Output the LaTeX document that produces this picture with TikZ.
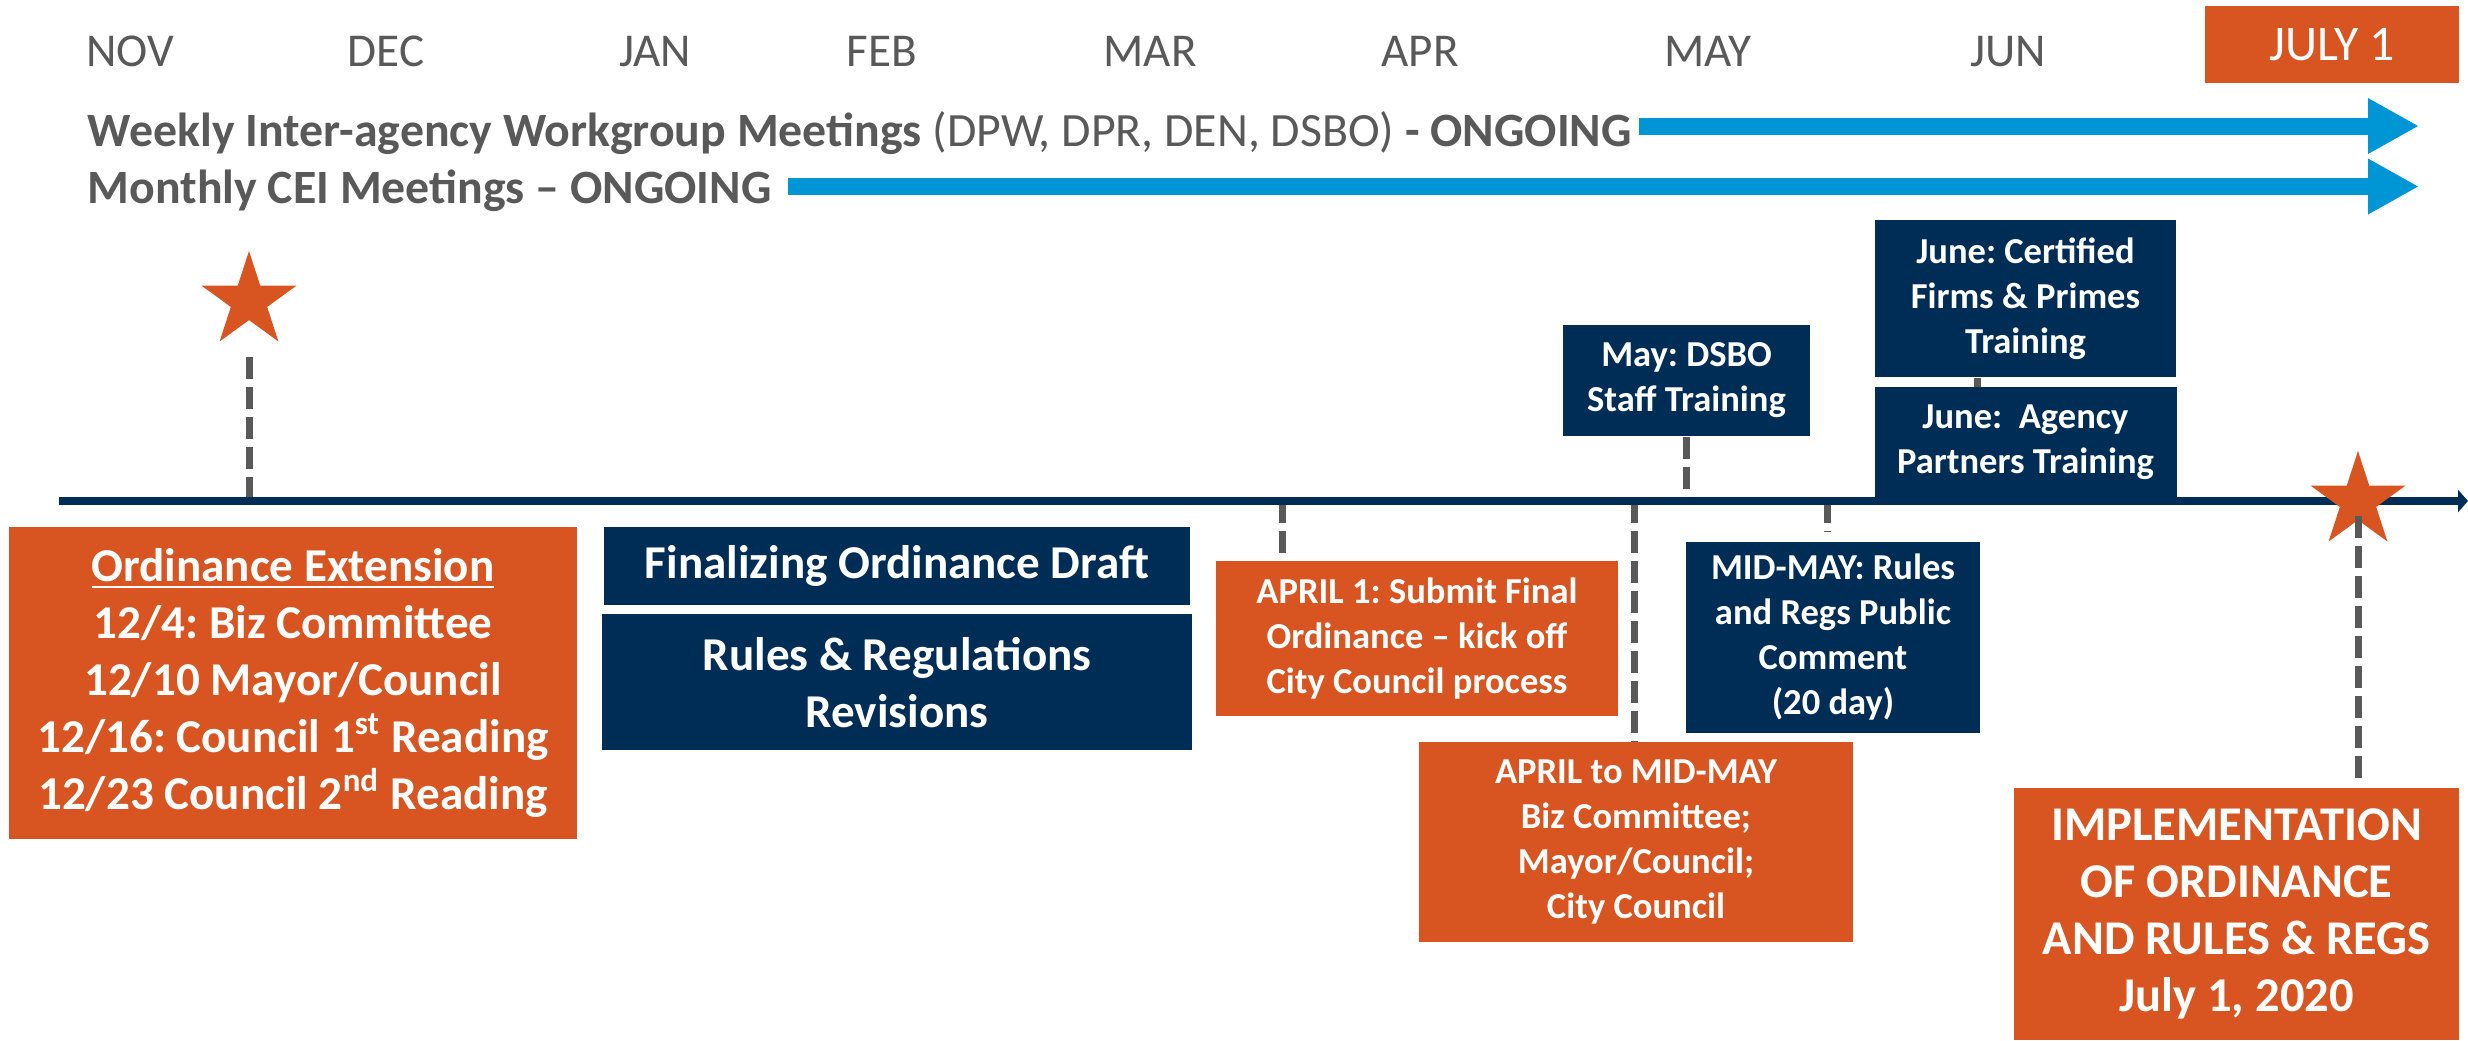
\documentclass[tikz,border=0pt]{standalone}
\usepackage{fontspec}
\setmainfont{Carlito}
\usepackage{xcolor}
\usepackage{tikz}
\usetikzlibrary{arrows.meta, positioning, shapes.geometric}

\definecolor{ordorange}{RGB}{216,84,32}
\definecolor{navy}{RGB}{0,45,86}
\definecolor{meetblue}{RGB}{0,150,214}
\definecolor{textgrey}{RGB}{89,89,89}

\frenchspacing
\begin{document}
\begin{tikzpicture}[x=0.1mm, y=-0.1mm]
            % Block styles
            \tikzstyle{orangebox} = [rectangle, fill=ordorange, text=white, align=center, inner sep=0pt]
            \tikzstyle{navybox} = [rectangle, fill=navy, text=white, align=center, inner sep=0pt]
            \tikzstyle{smalltext} = [font=\bfseries\fontsize{10.4}{12.8}\selectfont]
            \tikzstyle{bigtext} = [font=\bfseries\fontsize{13.4}{16.2}\selectfont]
            \tikzstyle{month} = [anchor=base, text=textgrey, font=\fontsize{13.4}{16}\selectfont]
            \tikzstyle{meeting} = [anchor=base west, text=textgrey, inner sep=0.6mm, font=\fontsize{13.6}{16}\selectfont]
            \tikzstyle{ongoing} = [draw=meetblue, line width=1.7mm, -{Triangle[length=5.1mm, width=5.2mm]}]
            \tikzstyle{timeline} = [draw=navy, line width=0.8mm, -{Triangle[length=1mm, width=2.2mm]}]
            \tikzstyle{link} = [draw=textgrey, line width=0.7mm, dash pattern=on 2.2mm off 0.8mm]
            \tikzstyle{starmark} = [star, star points=5, star point ratio=2.618, minimum size=10mm, inner sep=0pt, fill=ordorange]
            \useasboundingbox (0,0) rectangle (2468,1040);
            % Months
            \foreach \mname/\mx in {NOV/130, DEC/386, JAN/655, FEB/882, MAR/1150, APR/1420, MAY/1708, JUN/2008}
                \node[month] (m-\mname) at (\mx,66) {\mname};
            \node[orangebox, minimum width=25.4mm, minimum height=7.7mm, font=\fontsize{14.2}{17}\selectfont] (july) at (2332,44.5) {JULY 1};
            % Meetings
            \node[meeting] (weekly) at (81,146) {\textbf{Weekly Inter-agency Workgroup Meetings} (DPW, DPR, DEN, DSBO) \textbf{- ONGOING}};
            \node[meeting, font=\bfseries\fontsize{13.6}{16}\selectfont] (monthly) at (81,203) {Monthly CEI Meetings -- ONGOING};
            \coordinate (wkend) at (2419,126);
            \coordinate (moend) at (2419,186.5);
            \draw[ongoing] (weekly.east |- wkend) -- (wkend);
            \draw[ongoing, shorten <=1mm] (monthly.east |- moend) -- (moend);
            % Timeline points
            \coordinate (tlstart) at (59,501);
            \coordinate (tlend) at (2468,501);
            \coordinate (t-apr1) at (1282,501);
            \coordinate (t-aprmay) at (1634,501);
            \coordinate (t-midmay) at (1827,501);
            \coordinate (t-jun) at (1977,501);
            % Boxes below the timeline
            \node[orangebox, bigtext, minimum width=56.8mm, minimum height=31.2mm] (ordext) at (293,683) {\underline{Ordinance Extension}\\12/4: Biz Committee\\12/10 Mayor/Council\\12/16: Council 1\textsuperscript{st} Reading\\12/23 Council 2\textsuperscript{nd} Reading};
            \node[navybox, bigtext, minimum width=58.6mm, minimum height=7.8mm] (finaldraft) at (897,566) {Finalizing Ordinance Draft};
            \node[navybox, bigtext, minimum width=59mm, minimum height=13.6mm, below=0.8mm of finaldraft] (rulesrev) {Rules \& Regulations\\Revisions};
            \node[orangebox, smalltext, minimum width=40.2mm, minimum height=15.5mm] (apr1) at (1417,638.5) {APRIL 1: Submit Final\\Ordinance -- kick off\\City Council process};
            \node[orangebox, smalltext, minimum width=43.4mm, minimum height=20mm] (aprmay) at (1636,842) {APRIL to MID-MAY\\Biz Committee;\\Mayor/Council;\\City Council};
            \node[navybox, smalltext, minimum width=29.4mm, minimum height=19.1mm] (midmay) at (1833,637.5) {MID-MAY: Rules\\and Regs Public\\Comment\\(20 day)};
            \node[orangebox, bigtext, font=\bfseries\fontsize{13.8}{16.2}\selectfont, minimum width=44.5mm, minimum height=25.2mm] (impl) at (2236.5,914) {IMPLEMENTATION\\OF ORDINANCE\\AND RULES \& REGS\\July 1, 2020};
            % Boxes above the timeline
            \node[navybox, smalltext, minimum width=24.7mm, minimum height=11.1mm] (dsbo) at (1686.5,380.5) {May: DSBO\\Staff Training};
            \node[navybox, smalltext, minimum width=30.1mm, minimum height=15.7mm] (cert) at (2025.5,298.5) {June: Certified\\Firms \& Primes\\Training};
            \node[navybox, smalltext, minimum width=30.2mm, minimum height=11mm, below=0.9mm of cert] (agency) {June:\ \ Agency\\Partners Training};
            \node[starmark] (star1) at (249,301) {};
            % Connections
            \draw[link] ([yshift=-5.6mm]star1.center) -- (star1.center |- tlstart);
            \draw[link, shorten >=0.4mm] (t-apr1) -- (t-apr1 |- apr1.north);
            \draw[link] (t-aprmay) -- (t-aprmay |- aprmay.north);
            \draw[link, shorten >=1mm] (t-midmay) -- (t-midmay |- midmay.north);
            \draw[link] (dsbo.south) -- (dsbo.south |- tlstart);
            \draw[link] (t-jun |- cert.south) -- (t-jun |- agency.north);
            \draw[link] (t-jun |- agency.south) -- (t-jun);
            \draw[timeline] (tlstart) -- (tlend);
            \node[starmark] (star2) at (2358,501) {};
            \draw[link, shorten >=0.4mm] ([yshift=-1.5mm]star2.center) -- (star2.center |- impl.north);
\end{tikzpicture}
\end{document}
